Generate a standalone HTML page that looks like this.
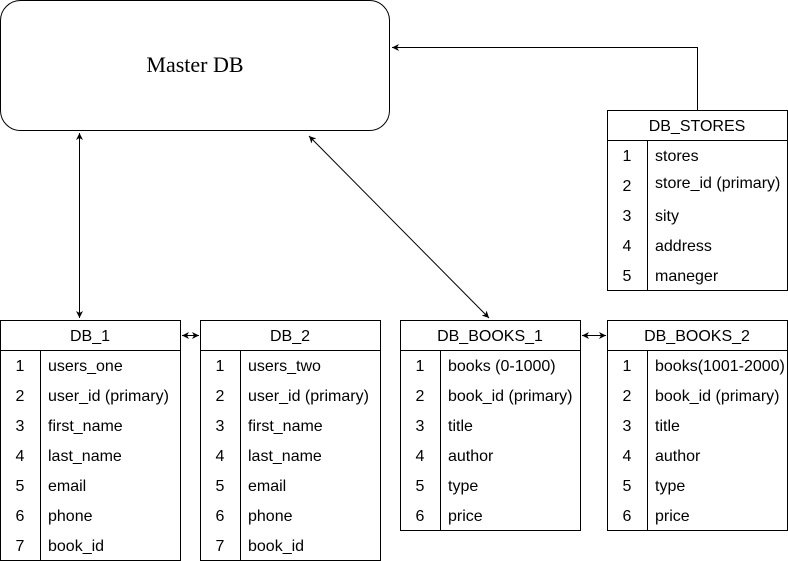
<!DOCTYPE html>
<html><head><style>body{margin:0;background:#fff}svg{display:block}</style></head><body>
<svg width="788" height="561" xmlns="http://www.w3.org/2000/svg" font-family="Liberation Sans, Arial, sans-serif" font-size="16" fill="#000">
<defs><marker id="a" markerWidth="8" markerHeight="8" refX="7" refY="4" orient="auto-start-reverse" markerUnits="userSpaceOnUse"><path d="M0,0.5 L7,4 L0,7.5 L2,4 z" fill="#000"/></marker></defs>
<rect x="0.5" y="0.5" width="389" height="130" rx="20" fill="#fff" stroke="#000"/>
<text x="195" y="72" text-anchor="middle" font-family="Liberation Serif, serif" font-size="22">Master DB</text>
<g stroke="#000" fill="none">
<path d="M697.5,110 V47.5 H392" marker-end="url(#a)"/>
<line x1="79.5" y1="133" x2="79.5" y2="318" marker-start="url(#a)" marker-end="url(#a)"/>
<line x1="309" y1="136" x2="489" y2="318" marker-start="url(#a)" marker-end="url(#a)"/>
<line x1="182" y1="335.5" x2="199" y2="335.5" marker-start="url(#a)" marker-end="url(#a)"/>
<line x1="582" y1="335.5" x2="606" y2="335.5" marker-start="url(#a)" marker-end="url(#a)"/>
</g>
<!-- DB_STORES -->
<g stroke="#000" fill="none"><rect x="607.5" y="110.5" width="180" height="180"/><line x1="607.5" y1="140.5" x2="787.5" y2="140.5"/><line x1="647.5" y1="140.5" x2="647.5" y2="290.5"/></g>
<text x="697" y="131" text-anchor="middle">DB_STORES</text>
<g text-anchor="middle"><text x="627" y="161">1</text><text x="627" y="191">2</text><text x="627" y="221">3</text><text x="627" y="251">4</text><text x="627" y="281">5</text></g>
<text x="655" y="161">stores</text><text x="655" y="188">store_id (primary)</text><text x="655" y="221">sity</text><text x="655" y="251">address</text><text x="655" y="281">maneger</text>
<!-- DB_1 -->
<g stroke="#000" fill="none"><rect x="0.5" y="320.5" width="180" height="240"/><line x1="0.5" y1="350.5" x2="180.5" y2="350.5"/><line x1="40.5" y1="350.5" x2="40.5" y2="560.5"/></g>
<text x="90" y="341" text-anchor="middle">DB_1</text>
<g text-anchor="middle"><text x="20" y="371">1</text><text x="20" y="401">2</text><text x="20" y="431">3</text><text x="20" y="461">4</text><text x="20" y="491">5</text><text x="20" y="521">6</text><text x="20" y="551">7</text></g>
<text x="48" y="371">users_one</text><text x="48" y="401">user_id (primary)</text><text x="48" y="431">first_name</text><text x="48" y="461">last_name</text><text x="48" y="491">email</text><text x="48" y="521">phone</text><text x="48" y="551">book_id</text>
<!-- DB_2 -->
<g stroke="#000" fill="none"><rect x="200.5" y="320.5" width="180" height="240"/><line x1="200.5" y1="350.5" x2="380.5" y2="350.5"/><line x1="240.5" y1="350.5" x2="240.5" y2="560.5"/></g>
<text x="290" y="341" text-anchor="middle">DB_2</text>
<g text-anchor="middle"><text x="220" y="371">1</text><text x="220" y="401">2</text><text x="220" y="431">3</text><text x="220" y="461">4</text><text x="220" y="491">5</text><text x="220" y="521">6</text><text x="220" y="551">7</text></g>
<text x="248" y="371">users_two</text><text x="248" y="401">user_id (primary)</text><text x="248" y="431">first_name</text><text x="248" y="461">last_name</text><text x="248" y="491">email</text><text x="248" y="521">phone</text><text x="248" y="551">book_id</text>
<!-- DB_BOOKS_1 -->
<g stroke="#000" fill="none"><rect x="400.5" y="320.5" width="180" height="210"/><line x1="400.5" y1="350.5" x2="580.5" y2="350.5"/><line x1="440.5" y1="350.5" x2="440.5" y2="530.5"/></g>
<text x="490" y="341" text-anchor="middle">DB_BOOKS_1</text>
<g text-anchor="middle"><text x="420" y="371">1</text><text x="420" y="401">2</text><text x="420" y="431">3</text><text x="420" y="461">4</text><text x="420" y="491">5</text><text x="420" y="521">6</text></g>
<text x="448" y="371">books (0-1000)</text><text x="448" y="401">book_id (primary)</text><text x="448" y="431">title</text><text x="448" y="461">author</text><text x="448" y="491">type</text><text x="448" y="521">price</text>
<!-- DB_BOOKS_2 -->
<g stroke="#000" fill="none"><rect x="607.5" y="320.5" width="180" height="210"/><line x1="607.5" y1="350.5" x2="787.5" y2="350.5"/><line x1="647.5" y1="350.5" x2="647.5" y2="530.5"/></g>
<text x="697" y="341" text-anchor="middle">DB_BOOKS_2</text>
<g text-anchor="middle"><text x="627" y="371">1</text><text x="627" y="401">2</text><text x="627" y="431">3</text><text x="627" y="461">4</text><text x="627" y="491">5</text><text x="627" y="521">6</text></g>
<text x="655" y="371">books(1001-2000)</text><text x="655" y="401">book_id (primary)</text><text x="655" y="431">title</text><text x="655" y="461">author</text><text x="655" y="491">type</text><text x="655" y="521">price</text>
</svg>
</body></html>
